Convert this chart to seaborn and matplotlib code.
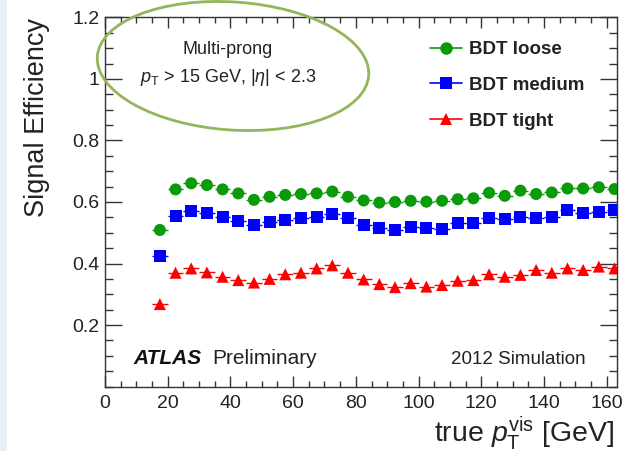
import numpy as np
import pandas as pd
import matplotlib
matplotlib.use("Agg")
import matplotlib.pyplot as plt
import seaborn as sns
from matplotlib.patches import Ellipse, Rectangle
from matplotlib.lines import Line2D
from matplotlib.transforms import IdentityTransform
from matplotlib.ticker import MultipleLocator

# ---- data ----
pt_centers = [17.5, 22.5, 27.5, 32.5, 37.5, 42.5, 47.5, 52.5, 57.5, 62.5,
              67.5, 72.5, 77.5, 82.5, 87.5, 92.5, 97.5, 102.5, 107.5, 112.5,
              117.5, 122.5, 127.5, 132.5, 137.5, 142.5, 147.5, 152.5, 157.5, 162.5]
eff_loose = [0.509, 0.641, 0.661, 0.655, 0.641, 0.628, 0.607, 0.617, 0.623, 0.626,
             0.628, 0.634, 0.617, 0.605, 0.598, 0.600, 0.604, 0.601, 0.604, 0.609,
             0.612, 0.630, 0.620, 0.637, 0.626, 0.631, 0.644, 0.644, 0.648, 0.642]
eff_medium = [0.424, 0.554, 0.572, 0.563, 0.552, 0.539, 0.525, 0.536, 0.541, 0.549,
              0.550, 0.561, 0.547, 0.526, 0.514, 0.509, 0.520, 0.514, 0.512, 0.533,
              0.533, 0.547, 0.544, 0.550, 0.547, 0.552, 0.574, 0.563, 0.568, 0.574]
eff_tight = [0.268, 0.370, 0.384, 0.371, 0.357, 0.346, 0.338, 0.350, 0.365, 0.370,
             0.384, 0.394, 0.370, 0.348, 0.333, 0.323, 0.336, 0.325, 0.330, 0.344,
             0.346, 0.365, 0.357, 0.363, 0.379, 0.370, 0.384, 0.379, 0.390, 0.384]
bin_half_width = 2.5
series_names = ["BDT loose", "BDT medium", "BDT tight"]
x_ticks = [0, 20, 40, 60, 80, 100, 120, 140, 160]
y_ticks = [0.2, 0.4, 0.6, 0.8, 1.0, 1.2]
y_tick_labels = ["0.2", "0.4", "0.6", "0.8", "1", "1.2"]

colors = {"BDT loose": "#0a9a0a", "BDT medium": "#0000ff", "BDT tight": "#ff0000"}
markers = {"BDT loose": "o", "BDT medium": "s", "BDT tight": "^"}

df = pd.DataFrame({
    "pt": pt_centers * 3,
    "eff": eff_loose + eff_medium + eff_tight,
    "wp": [series_names[0]] * len(pt_centers) + [series_names[1]] * len(pt_centers)
          + [series_names[2]] * len(pt_centers),
})

sns.set_theme(style="ticks")
plt.rcParams["font.family"] = ["Liberation Sans", "DejaVu Sans"]
plt.rcParams["mathtext.fontset"] = "custom"
plt.rcParams["mathtext.rm"] = "Liberation Sans"
plt.rcParams["mathtext.it"] = "Liberation Sans:italic"

W, H = 627, 451
fig = plt.figure(figsize=(W / 100, H / 100), dpi=100)
fig.patch.set_facecolor("white")
fig.add_artist(Rectangle((0, 0), 7, H, transform=IdentityTransform(),
                         facecolor="#e9eef6", edgecolor="none", zorder=0))

ax = fig.add_axes([105 / W, 1 - 386.5 / H, (616.7 - 105) / W, (386.5 - 17.5) / H])

# horizontal bin-width bars
for name, vals in zip(series_names, [eff_loose, eff_medium, eff_tight]):
    ax.errorbar(pt_centers, vals, xerr=bin_half_width, yerr=0.004, fmt="none",
                ecolor=colors[name], elinewidth=1.0, capsize=0, zorder=2)

sns.scatterplot(data=df, x="pt", y="eff", hue="wp", style="wp",
                palette=colors, markers=markers, s=75, linewidth=0,
                legend=False, ax=ax, zorder=3)

ax.set_xlim(0, 163.2)
ax.set_ylim(0, 1.2)
ax.set_xticks(x_ticks)
ax.set_xticklabels([str(t) for t in x_ticks])
ax.set_yticks(y_ticks)
ax.set_yticklabels(y_tick_labels)
ax.xaxis.set_minor_locator(MultipleLocator(5))
ax.yaxis.set_minor_locator(MultipleLocator(0.05))
ax.tick_params(axis="both", which="both", direction="in", top=True, right=True,
               colors="#333333", labelcolor="#222222", labelsize=14, width=1)
ax.tick_params(axis="x", which="major", length=8, pad=6)
ax.tick_params(axis="x", which="minor", length=4)
ax.tick_params(axis="y", which="major", length=12, pad=4)
ax.tick_params(axis="y", which="minor", length=6)
for sp in ax.spines.values():
    sp.set_color("#333333")
    sp.set_linewidth(1.0)
ax.set_xlabel("")
ax.set_ylabel("")

fig.text(37 / W, 1 - 18 / H, "Signal Efficiency", rotation=90, ha="center",
         va="top", fontsize=19.5, color="#222222")
fig.text(614 / W, 1 - 442 / H, r"true $p_{\mathrm{T}}^{\mathrm{vis}}$ [GeV]",
         ha="right", va="baseline", fontsize=20.5, color="#222222")

# legend
handles = [Line2D([0], [0], color=colors[n], marker=markers[n], markersize=9,
                  markeredgewidth=0, lw=1.2) for n in series_names]
leg = ax.legend(handles, series_names, loc="upper left",
                bbox_to_anchor=(430 / W, 1 - 41 / H), bbox_transform=fig.transFigure,
                frameon=False, handlelength=1.7, handletextpad=0.4,
                labelspacing=1.0, borderpad=0, borderaxespad=0,
                prop={"weight": "bold", "size": 13.5})
for t in leg.get_texts():
    t.set_color("#222222")

# annotations
fig.text(228 / W, 1 - 50 / H, "Multi-prong", ha="center", va="center",
         fontsize=13, color="#222222")
fig.text(228 / W, 1 - 78 / H, r"$p_{\mathrm{T}}$ > 15 GeV, |$\eta$| < 2.3",
         ha="center", va="center", fontsize=13, color="#222222")
fig.text(133 / W, 1 - 359 / H, "ATLAS", ha="left", va="center", fontsize=15,
         fontweight="bold", fontstyle="italic", color="#111111")
fig.text(212 / W, 1 - 359 / H, "Preliminary", ha="left", va="center",
         fontsize=15, color="#222222")
fig.text(586 / W, 1 - 359 / H, "2012 Simulation", ha="right", va="center",
         fontsize=13.5, color="#222222")

fig.add_artist(Ellipse((233, H - 66), 272, 128, angle=-4, transform=IdentityTransform(),
                       fill=False, edgecolor="#94b65a", lw=2.0, zorder=10,
                       clip_on=False))

fig.savefig("out.png", dpi=100)
